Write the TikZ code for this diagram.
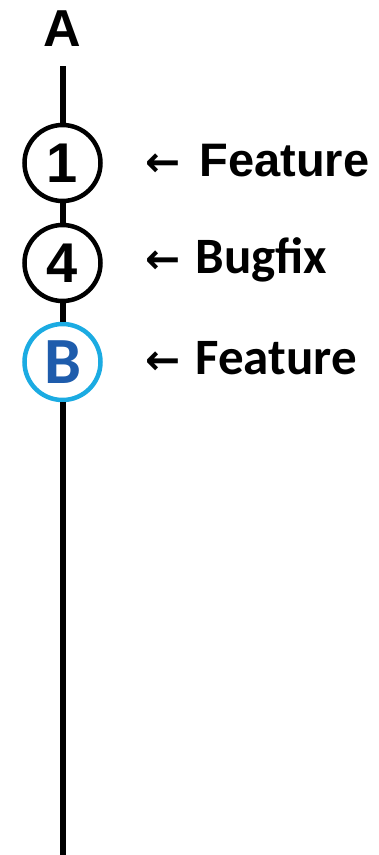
\documentclass[tikz,border=0pt]{standalone}
\usepackage{fontspec}
\setmainfont{Liberation Sans}
\newfontfamily\carlito{Carlito}
\newfontfamily\arrowfont{DejaVu Sans}
\newcommand{\pointleft}[1]{{\arrowfont\bfseries\fontsize{42}{42}\selectfont ←}\hspace{#1}}
\begin{document}
\begin{tikzpicture}[x=1pt,y=1pt,
  commit/.style={circle,draw=black,line width=4.5pt,minimum size=76pt,inner sep=0pt,
    font=\fontsize{56}{56}\selectfont\bfseries},
  headcommit/.style={commit,draw=cyanring,text=headblue,font=\fontsize{66}{66}\selectfont\carlito\bfseries},
  branch/.style={line width=6pt,draw=black},
  note/.style={anchor=west,inner sep=0pt,font=\fontsize{47}{47}\selectfont\bfseries},
  altnote/.style={note,font=\fontsize{51}{51}\selectfont\carlito\bfseries}]
\definecolor{cyanring}{RGB}{27,171,226}
\definecolor{headblue}{RGB}{30,92,172}
\useasboundingbox (0,0) rectangle (378,-855);
\node[font=\fontsize{52}{52}\selectfont\bfseries,inner sep=0pt] (A) at (62.5,-29) {A};
\coordinate (top) at (62.5,-66);
\node[commit] (c1) at (62.5,-163) {1};
\node[commit] (c4) at (62.5,-263) {4};
\node[headcommit] (cB) at (62.5,-362) {B};
\coordinate (bottom) at (62.5,-858);
\draw[branch] (top) -- (c1);
\draw[branch] (c1) -- (c4);
\draw[branch] (c4) -- (cB);
\draw[branch] (cB) -- (bottom);
\node[note] (l1) at (145,-161) {\pointleft{19pt}Feature};
\node[altnote] (l4) at (145,-260) {\pointleft{15pt}Bugfix};
\node[altnote] (lB) at (145,-358) {\pointleft{15pt}Feature};
\end{tikzpicture}
\end{document}
